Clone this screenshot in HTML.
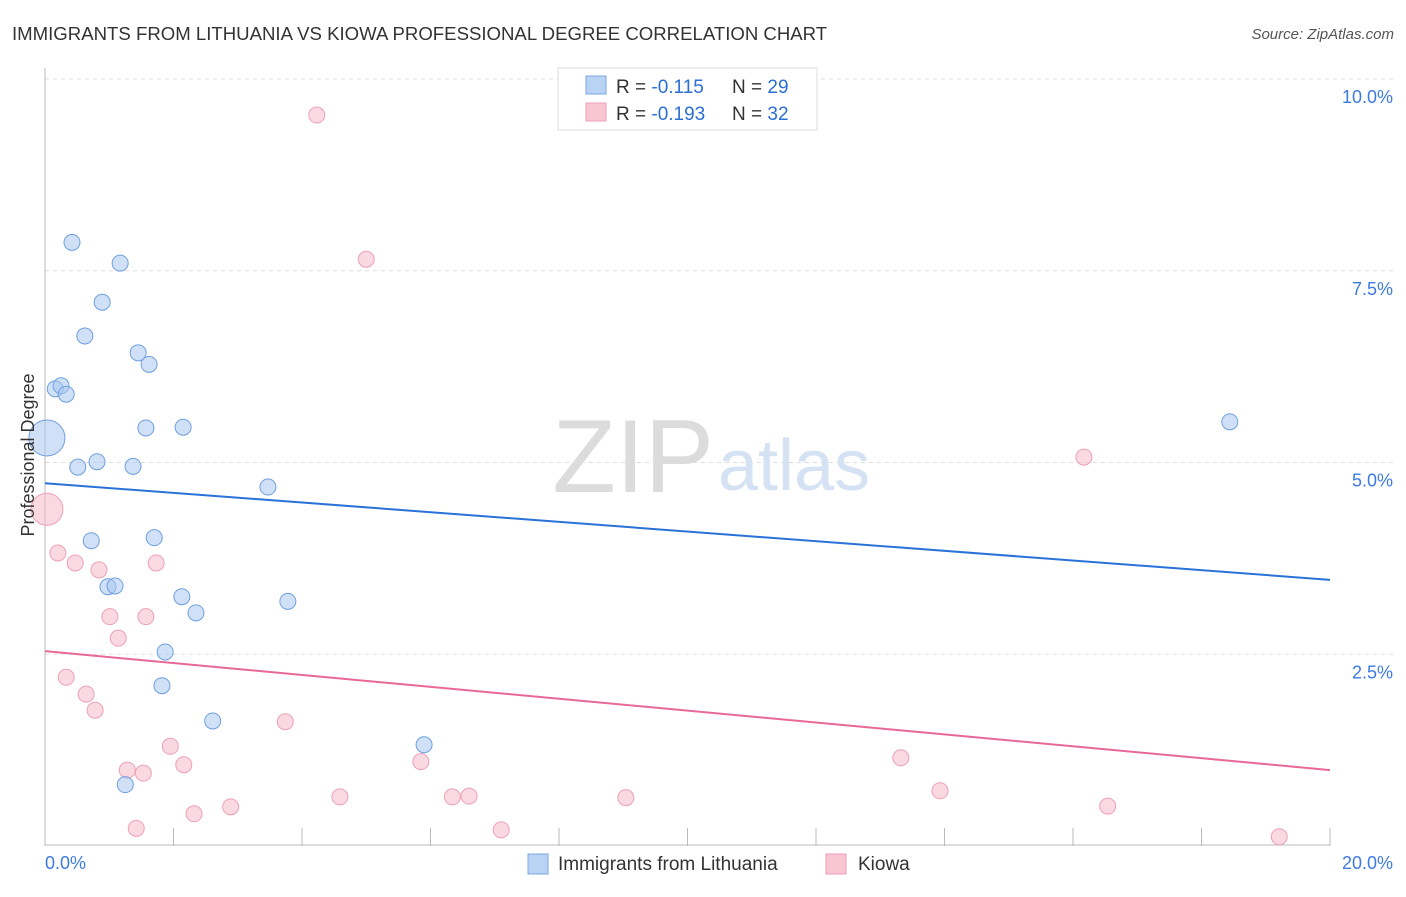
<!DOCTYPE html>
<html><head><meta charset="utf-8"><style>
body{margin:0;background:#fff;font-family:"Liberation Sans",sans-serif;}
svg text{font-family:"Liberation Sans",sans-serif;}
</style></head><body>
<svg width="1406" height="892" xmlns="http://www.w3.org/2000/svg">
<text x="12" y="40" font-size="18.6" fill="#333">IMMIGRANTS FROM LITHUANIA VS KIOWA PROFESSIONAL DEGREE CORRELATION CHART</text>
<text x="1394" y="39" font-size="15" fill="#555" font-style="italic" text-anchor="end">Source: ZipAtlas.com</text>
<g id="grid"></g>
<g id="axes"></g>
<text x="714" y="492" font-size="104" fill="#dcdcdc" text-anchor="end" font-family="Liberation Serif">ZIP</text>
<text x="718" y="490" font-size="72" fill="#d4e2f4">atlas</text>
<g id="lines"></g>
<g id="points"></g>
<text transform="translate(34,455) rotate(-90)" font-size="18" fill="#333" text-anchor="middle">Professional Degree</text>
<g>
<rect x="558" y="68" width="259" height="62" fill="#fff" stroke="#ddd"/>
<rect x="586" y="76" width="20" height="18" fill="#b9d3f5" stroke="#7aa7e3"/>
<rect x="586" y="103" width="20" height="18" fill="#f9c5d3" stroke="#ee9fb7"/>
<text x="616" y="93" font-size="19" fill="#333">R = <tspan fill="#2a6fd6">-0.115</tspan><tspan x="732">N = </tspan><tspan fill="#2a6fd6">29</tspan></text>
<text x="616" y="120" font-size="19" fill="#333">R = <tspan fill="#2a6fd6">-0.193</tspan><tspan x="732">N = </tspan><tspan fill="#2a6fd6">32</tspan></text>
</g>
<g>
<rect x="528" y="854" width="20" height="20" fill="#b9d3f5" stroke="#7aa7e3"/>
<text x="558" y="870" font-size="19" fill="#333">Immigrants from Lithuania</text>
<rect x="826" y="854" width="20" height="20" fill="#f9c5d3" stroke="#ee9fb7"/>
<text x="858" y="870" font-size="19" fill="#333">Kiowa</text>
</g>
</svg>
<script>
const yTicks=[2.5,5,7.5,10];
const yTickLabels=["2.5%","5.0%","7.5%","10.0%"];
const xTickLabels=["0.0%","20.0%"];
const blueX=[0.42,1.17,0.89,0.62,1.45,1.62,0.16,0.25,0.33,0.03,1.57,2.15,0.51,0.81,1.37,3.47,18.44,0.72,1.70,0.98,1.09,2.13,2.35,3.78,1.87,1.82,2.61,5.90,1.25];
const blueY=[7.87,7.60,7.09,6.65,6.43,6.28,5.96,6.00,5.89,5.32,5.45,5.46,4.94,5.01,4.95,4.68,5.53,3.98,4.02,3.38,3.39,3.25,3.04,3.19,2.53,2.09,1.63,1.32,0.80];
const pinkX=[4.23,5.0,0.03,0.2,0.47,0.84,1.73,1.01,1.57,1.14,0.33,0.64,0.78,1.95,3.74,2.16,1.28,1.53,2.89,2.32,1.42,4.59,5.85,6.34,6.60,7.10,9.04,16.17,13.32,13.93,16.54,19.21];
const pinkY=[9.53,7.65,4.39,3.82,3.69,3.60,3.69,2.99,2.99,2.71,2.20,1.98,1.77,1.30,1.62,1.06,0.99,0.95,0.51,0.42,0.23,0.64,1.10,0.64,0.65,0.21,0.63,5.07,1.15,0.72,0.52,0.12];
const blueTrend=[4.73,3.47];
const pinkTrend=[2.54,0.99];
const X0=45,X1=1330,Y0=846,PX=(X1-X0)/20,PY=76.7;
const sx=v=>X0+v*PX, sy=v=>Y0-v*PY;
const NS="http://www.w3.org/2000/svg";
function mk(tag,attrs,parent){const e=document.createElementNS(NS,tag);for(const k in attrs)e.setAttribute(k,attrs[k]);document.getElementById(parent).appendChild(e);return e;}
yTicks.forEach((t,i)=>{
 const l=mk('line',{x1:X0,x2:1395,y1:sy(t),y2:sy(t),stroke:'#ddd','stroke-dasharray':'4,4'},'grid');
 
 
 const tx=mk('text',{x:1393,y:sy(t)+24,'font-size':18,fill:'#3d7be0','text-anchor':'end'},'axes');
 tx.textContent=yTickLabels[i];
 
 
});
let ax=mk('line',{x1:X0,x2:X0,y1:68,y2:Y0,stroke:'#bbb'},'axes');


ax=mk('line',{x1:X0,x2:X1,y1:Y0-1,y2:Y0-1,stroke:'#bbb'},'axes');


for(let i=0;i<=10;i++){
 const t=mk('line',{x1:sx(i*2),x2:sx(i*2),y1:Y0-18,y2:Y0,stroke:'#bbb'},'axes');
 
 
}
let tl=mk('text',{x:45,y:869,'font-size':18,fill:'#3d7be0'},'axes');tl.textContent=xTickLabels[0];


tl=mk('text',{x:1393,y:869,'font-size':18,fill:'#3d7be0','text-anchor':'end'},'axes');tl.textContent=xTickLabels[1];


let ln=mk('line',{x1:sx(0),x2:sx(20),y1:sy(blueTrend[0]),y2:sy(blueTrend[1]),stroke:'#2a72d8','stroke-width':2},'lines');


ln=mk('line',{x1:sx(0),x2:sx(20),y1:sy(pinkTrend[0]),y2:sy(pinkTrend[1]),stroke:'#e8689a','stroke-width':2},'lines');


pinkX.forEach((x,i)=>{
 const c=mk('circle',{cx:sx(x),cy:sy(pinkY[i]),r:(i==2?16:8),fill:'rgba(246,180,200,0.5)',stroke:'#eea0b8'},'points');
 
 
});
blueX.forEach((x,i)=>{
 const c=mk('circle',{cx:sx(x),cy:sy(blueY[i]),r:(i==9?18:8),fill:'rgba(170,200,240,0.55)',stroke:'#6f9fdf'},'points');
 
 
});
</script>
</body></html>
